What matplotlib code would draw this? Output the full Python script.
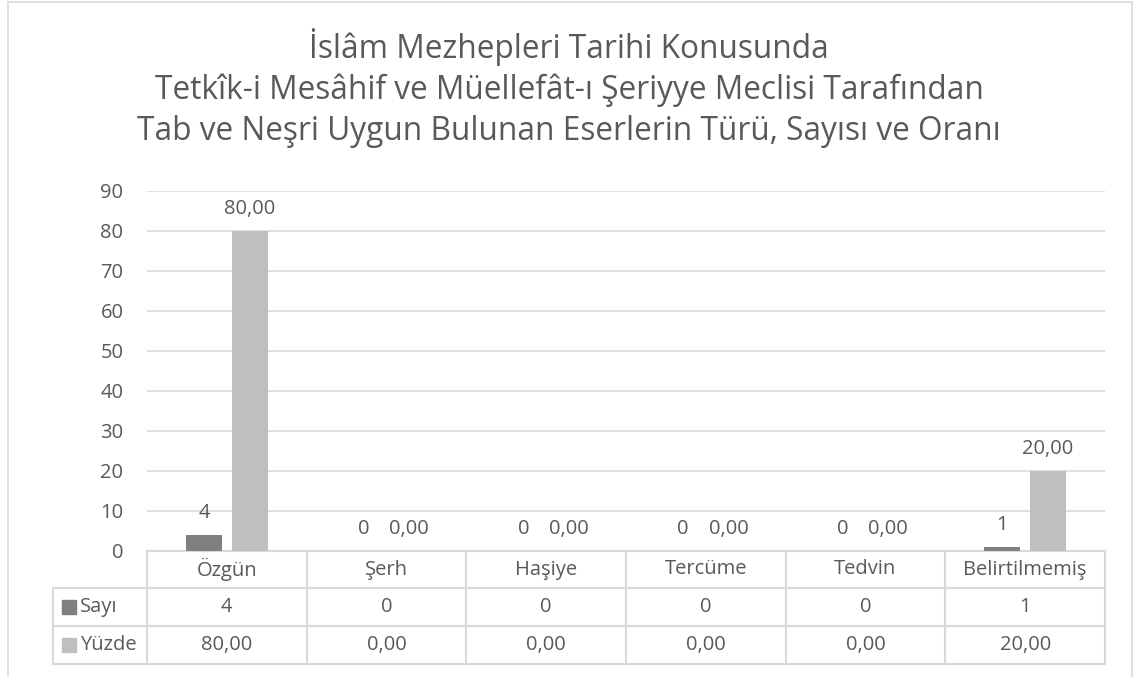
import numpy as np
import matplotlib.pyplot as plt
from matplotlib.patches import Rectangle

plt.rcParams['font.family'] = ['Open Sans', 'DejaVu Sans']

categories = ["Özgün", "Şerh", "Haşiye", "Tercüme", "Tedvin", "Belirtilmemiş"]
sayi = [4, 0, 0, 0, 0, 1]
yuzde = [80.0, 0.0, 0.0, 0.0, 0.0, 20.0]
series_names = ["Sayı", "Yüzde"]
yticks = list(range(0, 100, 10))

title = ("İslâm Mezhepleri Tarihi Konusunda\n"
         "Tetkîk-i Mesâhif ve Müellefât-ı Şeriyye Meclisi Tarafından\n"
         "Tab ve Neşri Uygun Bulunan Eserlerin Türü, Sayısı ve Oranı")

W, H = 1134, 677
TXT = "#595959"
GRID = "#d9d9d9"
colors = ["#7f7f7f", "#bfbfbf"]
FS = 14.5


def fmt(v):
    return f"{v:.2f}".replace(".", ",")


fig = plt.figure(figsize=(W / 100, H / 100), dpi=100)
# outer chart border
fig.patches.append(Rectangle((7.5 / W, -0.01), 1124 / W, 1.01 - 2.5 / H,
                             transform=fig.transFigure, fill=False,
                             edgecolor=GRID, linewidth=1.2))

left, right = 147 / W, 1105 / W
bottom, top = (H - 551) / H, (H - 191) / H
ax = fig.add_axes([left, bottom, right - left, top - bottom])

x = np.arange(len(categories))
bw = 0.225
gap = 0.06
off = (bw + gap) / 2
ax.bar(x - off, sayi, bw, color=colors[0], zorder=3)
ax.bar(x + off, yuzde, bw, color=colors[1], zorder=3)

for xi, s, y in zip(x, sayi, yuzde):
    ax.text(xi - off, s + 3, str(s), ha="center", va="bottom",
            fontsize=FS, color=TXT)
    ax.text(xi + off, y + 3, fmt(y), ha="center", va="bottom",
            fontsize=FS, color=TXT)

ax.set_xlim(-0.5, len(categories) - 0.5)
ax.set_ylim(0, 90)
ax.set_yticks(yticks)
ax.set_yticklabels([str(t) for t in yticks])
ax.tick_params(axis="y", length=0, labelsize=FS, labelcolor=TXT, pad=17)
ax.set_xticks([])
ax.grid(axis="y", color=GRID, linewidth=1.2, zorder=0)
for sp in ax.spines.values():
    sp.set_visible(False)

# data table below the plot
ph = 551 - 191
pw = 1105 - 147
rows_px = [551, 588, 626, 664]
rows = [-(r - 551) / ph for r in rows_px]
leg_left = (53 - 147) / pw
tr = ax.get_xaxis_transform()
lk = dict(color=GRID, linewidth=1.5, clip_on=False, transform=ax.transAxes)
n = len(categories)

ax.plot([0, 1], [rows[0], rows[0]], **lk)
for r in rows[1:]:
    ax.plot([leg_left, 1], [r, r], **lk)
for i in range(n + 1):
    xa = i / n
    ax.plot([xa, xa], [rows[0], rows[3]], **lk)
ax.plot([leg_left, leg_left], [rows[1], rows[3]], **lk)

mids = [(rows[k] + rows[k + 1]) / 2 for k in range(3)]
for i, c in enumerate(categories):
    ax.text(i, mids[0], c, transform=tr, ha="center", va="center",
            fontsize=FS, color=TXT)
    ax.text(i, mids[1], str(sayi[i]), transform=tr, ha="center",
            va="center", fontsize=FS, color=TXT)
    ax.text(i, mids[2], fmt(yuzde[i]), transform=tr, ha="center",
            va="center", fontsize=FS, color=TXT)

sq = 14 / pw
sqh = 14 / ph
for k, (name, col) in enumerate(zip(series_names, colors)):
    yc = mids[k + 1]
    ax.add_patch(Rectangle((leg_left + 9 / pw, yc - sqh / 2), sq, sqh,
                           transform=ax.transAxes, color=col, clip_on=False))
    ax.text(leg_left + 27 / pw, yc, name, transform=ax.transAxes,
            ha="left", va="center", fontsize=FS, color=TXT)

fig.text(0.502, (H - 88) / H, title, ha="center", va="center",
         fontsize=22.8, color=TXT, linespacing=1.3)

fig.savefig("out.png", dpi=100)
